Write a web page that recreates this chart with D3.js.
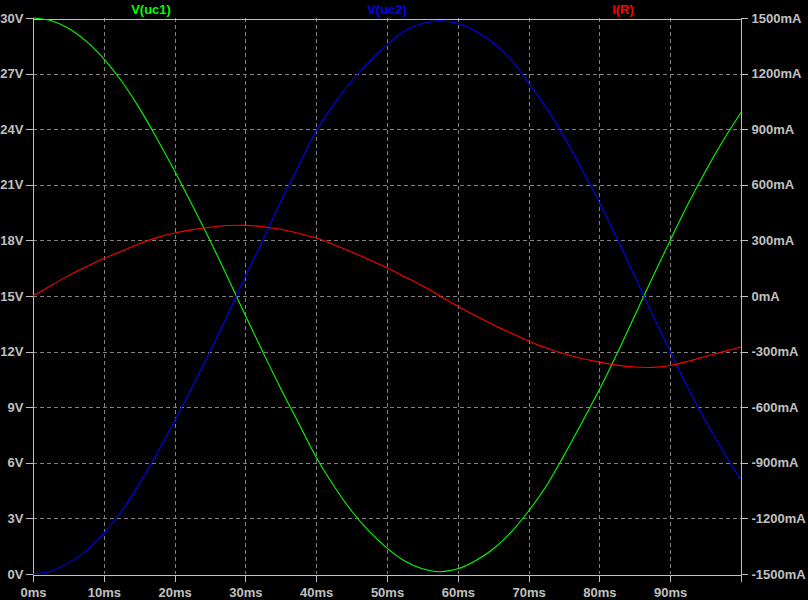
<!DOCTYPE html>
<html><head><meta charset="utf-8">
<script src="https://cdn.jsdelivr.net/npm/d3@7"></script>
<style>html,body{margin:0;padding:0;background:#000;}svg{display:block;}</style>
</head><body>
<script>
const times = [0,2.5,5,7.5,10,12.5,15,17.5,20,22.5,25,27.5,30,32.5,35,37.5,40,42.5,45,47.5,50,52.5,55,57.5,60,62.5,65,67.5,70,72.5,75,77.5,80,82.5,85,87.5,90,92.5,95,97.5,100];
const vuc1 = [30,29.86,29.45,28.75,27.8,26.6,25.15,23.5,21.75,19.9,18.0,16.0,13.95,11.95,10.0,8.15,6.3,4.75,3.4,2.3,1.4,0.7,0.28,0.12,0.28,0.72,1.35,2.25,3.4,4.75,6.4,8.15,9.95,11.9,13.95,16.0,18.0,19.95,21.75,23.4,24.9];
const vuc2 = [0,0.15,0.6,1.25,2.2,3.4,4.85,6.5,8.25,10.1,12.0,14.0,16.05,18.05,20.1,22.0,23.9,25.35,26.6,27.65,28.55,29.3,29.7,29.85,29.7,29.3,28.65,27.75,26.5,25.15,23.6,21.85,20.05,18.1,16.05,14.0,12.0,10.05,8.25,6.6,5.07];
const iR = [0,55,110,158,202,242,282,315,340,358,371,380,381,374,360,339,313,277,238,196,152,104,55,0,-55,-107,-155,-200,-243,-281,-312,-337,-357,-373,-383,-385,-375,-353,-326,-300,-275];
const xTicks = [0,10,20,30,40,50,60,70,80,90];
const yTicksL = [0,3,6,9,12,15,18,21,24,27,30];
const yTicksR = [-1500,-1200,-900,-600,-300,0,300,600,900,1200,1500];
const seriesNames = ["V(uc1)","V(uc2)","I(R)"];
const seriesColors = ["#00ff00","#0000ff","#ff0000"];

const W=808,H=600, L=33, R=741, T=18, B=574;
const svg = d3.select("body").append("svg").attr("width",W).attr("height",H).style("background","#000");
const x = d3.scaleLinear().domain([0,100]).range([L,R]);
const yL = d3.scaleLinear().domain([0,30]).range([B,T]);
const yR = d3.scaleLinear().domain([-1500,1500]).range([B,T]);
const fg = "#c0c0c0", gridC="#808080";
const font = "'Liberation Sans', Arial, sans-serif";

// grid
const g = svg.append("g").attr("shape-rendering","crispEdges");
xTicks.filter(d=>d>0).forEach(d=>{
  g.append("line").attr("x1",Math.round(x(d))+0.5).attr("x2",Math.round(x(d))+0.5).attr("y1",T).attr("y2",B)
   .attr("stroke",gridC).attr("stroke-dasharray","4,3");
});
yTicksL.filter(d=>d>0&&d<30).forEach(d=>{
  g.append("line").attr("x1",L).attr("x2",R).attr("y1",Math.round(yL(d))+0.5).attr("y2",Math.round(yL(d))+0.5)
   .attr("stroke",gridC).attr("stroke-dasharray","4,3");
});

// axes
const axL = d3.axisLeft(yL).tickValues(yTicksL).tickFormat(d=>d+"V").tickSize(7).tickPadding(2);
const axR = d3.axisRight(yR).tickValues(yTicksR).tickFormat(d=>d+"mA").tickSize(7).tickPadding(4);
const axB = d3.axisBottom(x).tickValues(xTicks).tickFormat(d=>d+"ms").tickSize(7).tickPadding(6);
const axT = d3.axisTop(x).tickValues([]).tickSize(0);
function style(sel){
  sel.attr("shape-rendering","crispEdges");
  sel.selectAll("path,line").attr("stroke",fg);
  sel.selectAll("text").attr("fill",fg).style("font-family",font).style("font-size","13px").style("font-weight","bold");
}
svg.append("g").attr("transform",`translate(${L-0.5},0)`).call(axL).call(style);
svg.append("g").attr("transform",`translate(${R-0.5},0)`).call(axR).call(style);
svg.append("g").attr("transform",`translate(0,${B+0.5})`).call(axB).call(style);
svg.append("g").attr("transform",`translate(0,${T+0.5})`).call(axT).call(style);

// lines
const mk = (vals, ys) => d3.line().x((d,i)=>x(times[i])).y(d=>ys(d)).curve(d3.curveCatmullRom.alpha(0.5))(vals);
[[vuc1,yL],[vuc2,yL],[iR,yR]].forEach(([v,s],k)=>{
  svg.append("path").attr("d",mk(v,s)).attr("fill","none").attr("stroke",seriesColors[k]).attr("stroke-width",1.1);
});

// legend titles
seriesNames.forEach((n,k)=>{
  svg.append("text").attr("x",L+(R-L)*(2*k+1)/6).attr("y",14).attr("text-anchor","middle")
    .attr("fill",seriesColors[k]).style("font-family",font).style("font-size","13px").style("font-weight","bold").text(n);
});
</script>
</body></html>
